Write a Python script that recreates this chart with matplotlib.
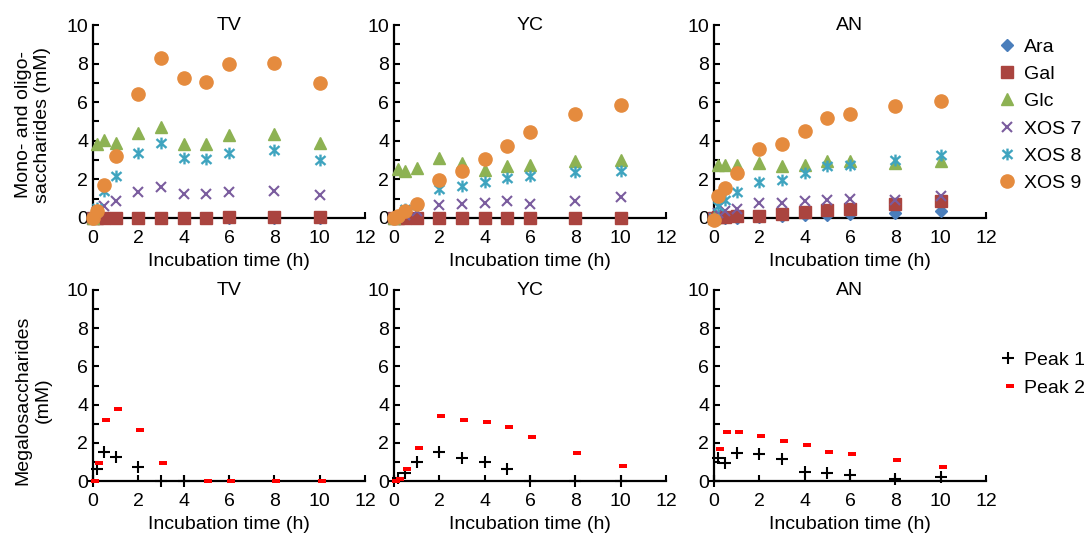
import numpy as np
import matplotlib.pyplot as plt
from matplotlib.path import Path
from matplotlib.ticker import MultipleLocator

plt.rcParams['font.family'] = ['Liberation Sans', 'DejaVu Sans']

nan = np.nan
times = [0, 0.17, 0.5, 1, 2, 3, 4, 5, 6, 8, 10]
panels = ['TV', 'YC', 'AN']

# top row: mono- and oligosaccharides (mM)
tv_ara = [0, 0, 0, 0, 0, 0, 0, 0, 0, 0, 0]
tv_gal = [0, 0.02, 0.02, 0.02, 0.02, 0.02, 0.02, 0.02, 0.03, 0.03, 0.04]
tv_glc = [0, 3.84, 4.05, 3.88, 4.40, 4.74, 3.84, 3.83, 4.28, 4.36, 3.88]
tv_xos7 = [0, 0.30, 0.62, 0.86, 1.33, 1.59, 1.26, 1.26, 1.34, 1.38, 1.20]
tv_xos8 = [0, 0.50, 1.38, 2.16, 3.36, 3.88, 3.10, 3.05, 3.36, 3.50, 2.98]
tv_xos9 = [0, 0.34, 1.72, 3.19, 6.41, 8.28, 7.24, 7.03, 7.97, 8.05, 6.98]

yc_ara = [0, 0, 0, 0, 0, 0, 0, 0, 0, 0, 0]
yc_gal = [0, 0.02, 0.02, 0.02, 0.02, 0.02, 0.02, 0.02, 0.02, 0.02, 0.02]
yc_glc = [0, 2.55, 2.46, 2.60, 3.12, 2.84, 2.50, 2.72, 2.76, 2.93, 2.98]
yc_xos7 = [0, 0.05, 0.15, 0.38, 0.69, 0.73, 0.78, 0.87, 0.73, 0.87, 1.11]
yc_xos8 = [0, 0.10, 0.47, 0.69, 1.50, 1.68, 1.85, 2.08, 2.20, 2.37, 2.46]
yc_xos9 = [0, 0.12, 0.35, 0.74, 1.99, 2.43, 3.07, 3.73, 4.44, 5.37, 5.86]

an_ara = [0, 0, 0, 0, 0.05, 0.10, 0.15, 0.18, 0.22, 0.26, 0.36]
an_gal = [0, 0.05, 0.07, 0.08, 0.09, 0.21, 0.31, 0.40, 0.47, 0.75, 0.90]
an_glc = [0, 2.77, 2.77, 2.77, 2.86, 2.69, 2.77, 2.95, 2.95, 2.86, 2.95]
an_xos7 = [0, 0.26, 0.35, 0.49, 0.78, 0.78, 0.87, 0.95, 0.99, 0.95, 1.13]
an_xos8 = [0, 0.60, 0.95, 1.33, 1.87, 1.99, 2.34, 2.69, 2.77, 3.03, 3.29]
an_xos9 = [-0.08, 1.13, 1.56, 2.34, 3.55, 3.81, 4.50, 5.16, 5.41, 5.81, 6.07]

# bottom row: megalosaccharides (mM)
tv_peak1 = [0, 0.65, 1.50, 1.27, 0.72, 0, 0, nan, nan, nan, nan]
tv_peak2 = [0, 0.94, 3.20, 3.78, 2.67, 0.96, nan, 0, 0, 0, 0]
yc_peak1 = [0, 0.14, 0.44, 0.98, 1.54, 1.22, 1.01, 0.61, 0, 0, 0]
yc_peak2 = [0, 0.10, 0.63, 1.75, 3.42, 3.18, 3.07, 2.84, 2.32, 1.48, 0.80]
an_peak1 = [0, 1.22, 0.96, 1.44, 1.39, 1.13, 0.45, 0.43, 0.31, 0.09, 0.23]
an_peak2 = [nan, 1.65, 2.54, 2.54, 2.37, 2.09, 1.91, 1.53, 1.39, 1.10, 0.75]

sugar_labels = ['Ara', 'Gal', 'Glc', 'XOS 7', 'XOS 8', 'XOS 9']
top_data = [
    [tv_ara, tv_gal, tv_glc, tv_xos7, tv_xos8, tv_xos9],
    [yc_ara, yc_gal, yc_glc, yc_xos7, yc_xos8, yc_xos9],
    [an_ara, an_gal, an_glc, an_xos7, an_xos8, an_xos9],
]
peak_labels = ['Peak 1', 'Peak 2']
bottom_data = [
    [tv_peak1, tv_peak2],
    [yc_peak1, yc_peak2],
    [an_peak1, an_peak2],
]

# marker shapes
star = Path([(0, -1), (0, 1), (-0.85, -0.75), (0.85, 0.75), (-0.85, 0.75), (0.85, -0.75)],
            [Path.MOVETO, Path.LINETO, Path.MOVETO, Path.LINETO, Path.MOVETO, Path.LINETO])
dash = Path([(-0.4, -0.32), (1.0, -0.32), (1.0, 0.32), (-0.4, 0.32), (-0.4, -0.32)],
            [Path.MOVETO, Path.LINETO, Path.LINETO, Path.LINETO, Path.CLOSEPOLY])

sugar_styles = [
    dict(marker='D', ms=6.5, color='#4A7EBB'),
    dict(marker='s', ms=8, color='#AA443F'),
    dict(marker='^', ms=9, color='#8DB253'),
    dict(marker='x', ms=7.5, mew=1.5, color='#7A5C9E'),
    dict(marker=star, ms=8.5, mew=1.7, color='#3FA4BF', mfc='none'),
    dict(marker='o', ms=9.5, color='#E58B3E'),
]
peak_styles = [
    dict(marker='+', ms=8.5, mew=1.5, color='black'),
    dict(marker=dash, ms=9, mew=0, color='#FF0000'),
]

fs = 14
fig = plt.figure(figsize=(10.86, 5.39), dpi=100)
W, H = 1086, 539
lefts = [93, 394, 714]


def setup(ax, name):
    ax.set_xlim(0, 12)
    ax.set_ylim(0, 10)
    ax.spines['top'].set_visible(False)
    ax.spines['right'].set_visible(False)
    for s in ['left', 'bottom']:
        ax.spines[s].set_linewidth(1.6)
    ax.xaxis.set_major_locator(MultipleLocator(2))
    ax.yaxis.set_major_locator(MultipleLocator(2))
    ax.yaxis.set_minor_locator(MultipleLocator(1))
    ax.tick_params(which='both', direction='in', length=4, width=1.5, labelsize=fs)
    ax.tick_params(axis='y', pad=3.5)
    ax.tick_params(axis='x', pad=9)
    ax.patch.set_visible(False)
    ax.set_xlabel('Incubation time (h)', fontsize=fs, labelpad=4)
    ax.text(6, 9.95, name, ha='center', va='center', fontsize=fs)


top_axes = []
bot_axes = []
for i, name in enumerate(panels):
    ax = fig.add_axes([lefts[i] / W, 1 - 218 / H, 272 / W, 193 / H])
    setup(ax, name)
    for vals, lab, st in zip(top_data[i], sugar_labels, sugar_styles):
        ax.plot(times, vals, ls='none', label=lab, clip_on=False, zorder=3, **st)
    top_axes.append(ax)

    ax2 = fig.add_axes([lefts[i] / W, 1 - 481 / H, 272 / W, 191 / H])
    setup(ax2, name)
    for vals, lab, st in zip(bottom_data[i], peak_labels, peak_styles):
        ax2.plot(times, vals, ls='none', label=lab, clip_on=False, zorder=3, **st)
    bot_axes.append(ax2)

fig.text(33 / W, 1 - 125 / H, 'Mono- and oligo-\nsaccharides (mM)', rotation=90,
         ha='center', va='center', multialignment='center', fontsize=fs)
fig.text(33 / W, 1 - 400 / H, 'Megalosaccharides\n(mM)', rotation=90,
         ha='center', va='center', multialignment='center', fontsize=fs)

h, l = top_axes[2].get_legend_handles_labels()
fig.legend(h, l, loc='upper left', bbox_to_anchor=(999 / W, 1 - 38 / H), frameon=False,
           fontsize=fs, handlelength=0.8, handletextpad=0.5, labelspacing=0.5,
           borderpad=0, borderaxespad=0)
h, l = bot_axes[2].get_legend_handles_labels()
fig.legend(h, l, loc='upper left', bbox_to_anchor=(1000 / W, 1 - 351 / H), frameon=False,
           fontsize=fs, handlelength=0.8, handletextpad=0.45, labelspacing=0.55,
           borderpad=0, borderaxespad=0)

fig.savefig('out.png', dpi=100)
